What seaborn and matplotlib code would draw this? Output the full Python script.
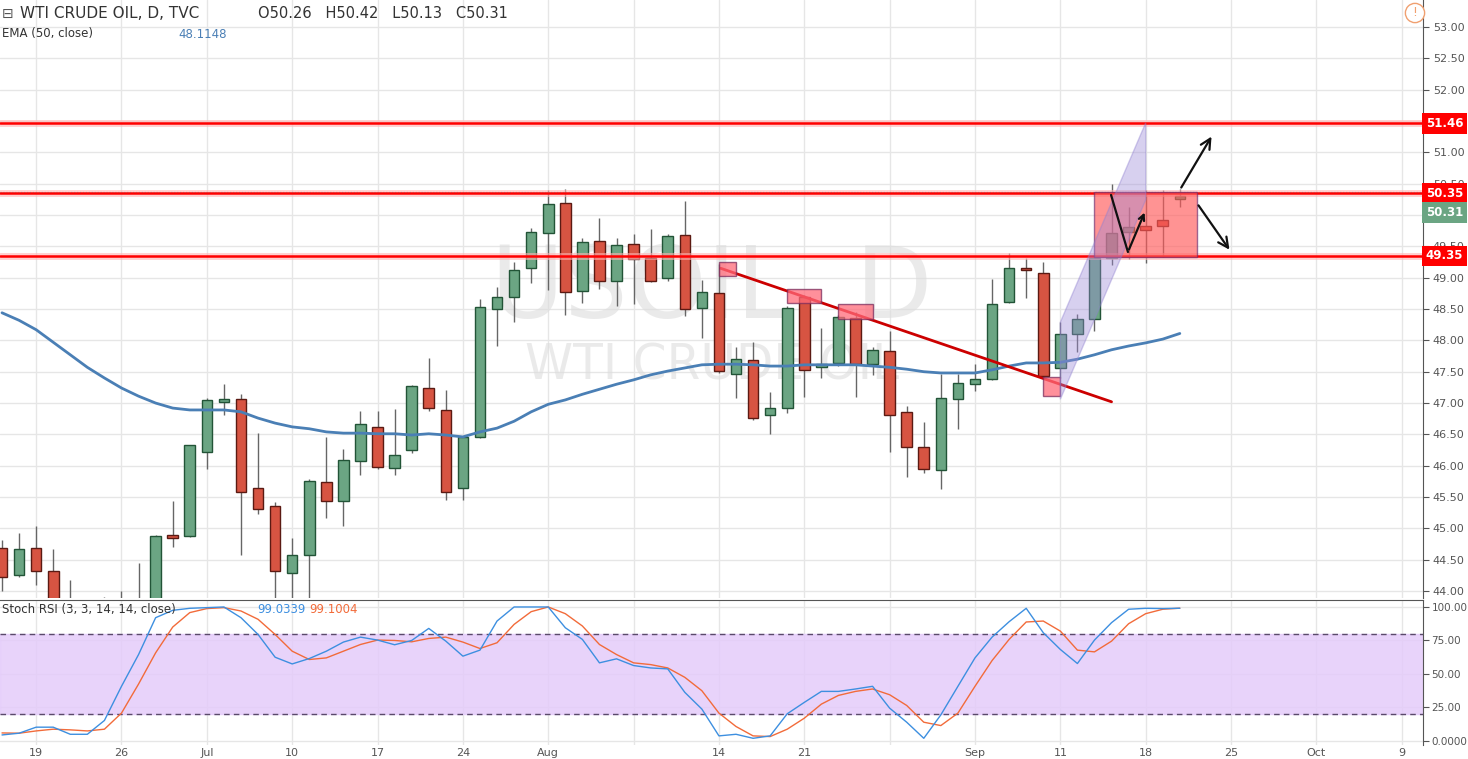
import numpy as np
import pandas as pd
import matplotlib
matplotlib.use("Agg")
import matplotlib.pyplot as plt
import matplotlib.patches as mpatches
import seaborn as sns

sns.set_style("white")
plt.rcParams['font.family'] = ['DejaVu Sans']

# daily candles (index = trading day, Jun 15 .. Sep 20 2017)
opens = [44.69, 44.26, 44.69, 44.32, 43.70, 43.55, 43.60, 43.75, 43.85, 43.75,
         44.90, 44.88, 46.22, 47.02, 47.06, 45.64, 45.36, 44.29, 44.58, 45.74,
         45.44, 46.07, 46.62, 45.96, 46.25, 47.24, 46.89, 45.64, 46.46, 48.50,
         48.69, 49.15, 49.71, 50.19, 48.79, 49.59, 48.95, 49.54, 49.31, 48.99,
         49.68, 48.52, 48.76, 47.46, 47.69, 46.81, 46.92, 48.69, 47.58, 47.64,
         48.36, 47.62, 47.83, 46.86, 46.30, 45.93, 47.06, 47.30, 47.38, 48.61,
         49.14, 49.07, 47.56, 48.10, 48.34, 49.31, 49.73, 49.82, 49.92, 50.26]
highs = [44.81, 44.93, 45.04, 44.67, 44.18, 43.80, 43.90, 44.00, 44.45, 44.90,
         45.44, 46.33, 47.08, 47.30, 47.14, 46.52, 45.42, 44.84, 45.79, 46.46,
         46.27, 46.87, 46.87, 46.90, 47.29, 47.72, 47.21, 46.46, 48.66, 48.85,
         49.25, 49.79, 50.40, 50.42, 49.64, 49.96, 49.64, 49.70, 49.78, 49.70,
         50.22, 48.96, 49.22, 47.89, 47.98, 47.18, 48.55, 48.72, 48.20, 48.40,
         48.46, 47.90, 48.15, 46.96, 46.70, 47.46, 47.46, 47.63, 48.98, 49.40,
         49.32, 49.25, 48.29, 48.42, 49.33, 50.49, 50.13, 50.40, 50.40, 50.42]
lows = [44.00, 44.22, 44.10, 43.50, 43.30, 43.20, 43.30, 43.40, 43.60, 43.70,
        44.70, 44.87, 45.95, 46.81, 44.57, 45.23, 43.70, 43.70, 43.80, 45.16,
        45.04, 45.85, 45.95, 45.85, 46.20, 46.87, 45.45, 45.45, 46.44, 47.91,
        48.29, 48.91, 48.80, 48.40, 48.60, 48.82, 48.55, 48.58, 48.93, 48.94,
        48.39, 48.04, 47.48, 47.08, 46.73, 46.51, 46.84, 47.09, 47.40, 47.59,
        47.10, 47.45, 46.22, 45.82, 45.89, 45.63, 46.59, 47.20, 47.37, 48.59,
        48.68, 47.40, 47.40, 47.81, 48.15, 49.20, 49.30, 49.23, 49.33, 50.13]
closes = [44.22, 44.67, 44.32, 43.70, 43.55, 43.60, 43.75, 43.85, 43.80, 44.88,
          44.85, 46.33, 47.05, 47.05, 45.58, 45.31, 44.32, 44.58, 45.76, 45.44,
          46.09, 46.67, 45.98, 46.17, 47.27, 46.92, 45.58, 46.46, 48.53, 48.69,
          49.12, 49.73, 50.18, 48.77, 49.57, 48.95, 49.52, 49.30, 48.95, 49.66,
          48.50, 48.77, 47.51, 47.70, 46.76, 46.92, 48.52, 47.53, 47.62, 48.37,
          47.62, 47.85, 46.81, 46.30, 45.95, 47.08, 47.32, 47.38, 48.58, 49.15,
          49.12, 47.43, 48.10, 48.34, 49.31, 49.71, 49.81, 49.76, 49.82, 50.31]
ema50 = [48.44, 48.32, 48.17, 47.97, 47.77, 47.57, 47.40, 47.24, 47.11, 47.00,
         46.92, 46.89, 46.89, 46.89, 46.86, 46.76, 46.68, 46.62, 46.59, 46.54,
         46.52, 46.52, 46.51, 46.51, 46.49, 46.51, 46.49, 46.46, 46.54, 46.60,
         46.71, 46.86, 46.98, 47.05, 47.14, 47.22, 47.30, 47.37, 47.45, 47.51,
         47.56, 47.61, 47.62, 47.62, 47.61, 47.59, 47.59, 47.61, 47.61, 47.61,
         47.61, 47.59, 47.57, 47.54, 47.50, 47.48, 47.48, 47.48, 47.53, 47.59,
         47.64, 47.64, 47.65, 47.70, 47.77, 47.85, 47.91, 47.96, 48.02, 48.11]
stoch_k = [4.5, 5.8, 10.3, 10.3, 5, 5, 15.3, 40.8, 64.5, 92,
           97.5, 99, 99.5, 100, 92, 79.5, 62.5, 57.5, 61.5, 67,
           73.8, 77.5, 75.3, 71.8, 75, 84, 74.5, 63.3, 67.8, 89.5,
           100, 100, 100, 84.5, 75.8, 58.3, 61.3, 56.3, 54.5, 53.8,
           36.3, 23.8, 3.8, 5, 2, 3.8, 20.3, 28.8, 37, 37,
           38.8, 40.8, 24.5, 14, 2, 19.5, 40.8, 62, 77.5, 89,
           99, 80.8, 68.3, 57.8, 75.3, 88.3, 98.3, 99, 98.8, 99.03]
stoch_d = [6, 5.8, 7.5, 8.8, 8.3, 7.5, 8.8, 20.8, 42.5, 65.8,
           85, 95.8, 98.8, 99.5, 97, 90.8, 79.5, 67, 60.8, 62,
           67, 72, 75.3, 75, 74, 76.5, 77.5, 73.8, 69, 73.3,
           87, 96.5, 100, 95, 85.8, 72, 64.5, 58.3, 57, 54.5,
           47.5, 37.5, 20.8, 10.8, 3.8, 3.3, 8.8, 17, 27.5, 34,
           37, 38.8, 34.5, 26.5, 14, 11.5, 20.8, 40.8, 60, 75.8,
           88.8, 89.5, 82, 67.8, 66.5, 74.5, 87.5, 95, 98.3, 99.1]

date_ticks = [2, 7, 12, 17, 22, 27, 32, 42, 47, 57, 62, 67, 72, 77, 82]
date_labels = ['19', '26', 'Jul', '10', '17', '24', 'Aug', '14', '21',
               'Sep', '11', '18', '25', 'Oct', '9']
grid_x = [2, 7, 12, 17, 22, 27, 32, 37, 42, 47, 52, 57, 62, 67, 72, 77, 82]

levels = [51.46, 50.35, 49.35]
last_price = 50.31

# drawings on the chart
trend_x = [42.1, 65.0]
trend_y = [49.15, 47.02]
marks = [(42.0, 43.0, 49.03, 49.25), (46.0, 48.0, 48.60, 48.82),
         (49.0, 51.0, 48.34, 48.58), (61.0, 62.0, 47.12, 47.41)]
zone = (64.0, 70.0, 49.33, 50.37)
channel_x = [62.0, 62.0, 67.0, 67.0]
channel_y = [47.06, 48.29, 51.47, 50.24]
zig_x = [64.97, 65.96, 67.0]
zig_y = [50.32, 49.41, 50.08]
arrow_up = (69.0, 50.40, 70.94, 51.29)
arrow_down = (70.0, 50.19, 72.0, 49.41)

df = pd.DataFrame({'i': np.arange(len(closes)), 'open': opens, 'high': highs,
                   'low': lows, 'close': closes, 'ema': ema50,
                   'k': stoch_k, 'd': stoch_d})

W, H = 1468, 759
fig = plt.figure(figsize=(W / 100, H / 100), dpi=100)
right = 1423 / W
ax = fig.add_axes([0, 1 - 598 / H, right, 598 / H])
ax2 = fig.add_axes([0, 1 - 745 / H, right, 145 / H])

xlim = (-2 / 17.07, 1421 / 17.07)
gridc = '#e6e6e6'
for a in (ax, ax2):
    a.set_xlim(*xlim)
    for s in ['top', 'left', 'bottom']:
        a.spines[s].set_visible(False)
    a.spines['right'].set_color('#555555')
    for gx in grid_x:
        a.axvline(gx, color=gridc, lw=1, zorder=0)
    a.yaxis.tick_right()
    a.tick_params(axis='y', labelsize=8, labelcolor='#555555', length=4,
                  color='#555555', pad=3)

# ---- main panel
ax.set_ylim(43.89, 53.43)
yt = np.arange(44, 53.01, 0.5)
ax.set_yticks(yt)
ax.set_yticklabels(['' if v in (50.0, 51.5) else f'{v:.2f}' for v in yt])
for v in yt:
    ax.axhline(v, color=gridc, lw=1, zorder=0)
ax.set_xticks([])

up = df['close'] >= df['open']
for is_up, fc, ec in [(True, '#6ba583', '#225437'), (False, '#d75442', '#5b1a13')]:
    sub = df[up == is_up]
    ax.vlines(sub['i'], sub['low'], sub['high'], color='#666666', lw=1, zorder=2)
    body = (sub['close'] - sub['open']).abs().clip(lower=0.04)
    ax.bar(sub['i'], body, bottom=sub[['open', 'close']].min(axis=1), width=0.62,
           color=fc, edgecolor=ec, linewidth=1, zorder=3)

sns.lineplot(data=df, x='i', y='ema', ax=ax, color='#4a7fb5', lw=2, zorder=4)
ax.set_xlabel('')
ax.set_ylabel('')

ax.text(710 / 17.07, 48.8, 'USOIL  D', fontsize=72, color='#dddddd', alpha=0.6,
        ha='center', va='center', zorder=1)
ax.text(710 / 17.07, 47.6, 'WTI CRUDE OIL', fontsize=35, color='#dddddd', alpha=0.6,
        ha='center', va='center', zorder=1)

for lv in levels:
    ax.axhline(lv, color='#ffb3b3', lw=5, alpha=0.6, zorder=5)
    ax.axhline(lv, color='#ff0000', lw=1.8, zorder=6)
ax.axhline(last_price + 0.05, color='#cc4444', lw=0.8, ls=':', zorder=6)

ax.plot(trend_x, trend_y, color='#cc0000', lw=2, zorder=7)
for x0, x1, y0, y1 in marks:
    ax.add_patch(mpatches.Rectangle((x0, y0), x1 - x0, y1 - y0, fc='#ff6b7a',
                                    ec='#7b2c5c', lw=1, alpha=0.75, zorder=7))
ax.add_patch(mpatches.Rectangle((zone[0], zone[2]), zone[1] - zone[0], zone[3] - zone[2],
                                fc='#ff5a5a', ec='#6a2c70', lw=1, alpha=0.65, zorder=8))
ax.add_patch(mpatches.Polygon(list(zip(channel_x, channel_y)), closed=True,
                              fc='#9c8ad8', ec='#8f80d0', lw=1, alpha=0.4, zorder=9))
ax.plot(zig_x[:2], zig_y[:2], color='#111111', lw=1.6, zorder=10)
ax.annotate('', xy=(zig_x[2], zig_y[2]), xytext=(zig_x[1], zig_y[1]),
            arrowprops=dict(arrowstyle='->', color='#111111', lw=1.6), zorder=10)
for ax0, ay0, ax1, ay1 in (arrow_up, arrow_down):
    ax.annotate('', xy=(ax1, ay1), xytext=(ax0, ay0),
                arrowprops=dict(arrowstyle='->', color='#111111', lw=1.6,
                                mutation_scale=18), zorder=10)

ytr = ax.get_yaxis_transform()
for lv in levels:
    ax.text(1.002, lv, f'{lv:.2f}', transform=ytr, fontsize=8.5, color='white',
            fontweight='bold', ha='left', va='center', clip_on=False, zorder=20,
            bbox=dict(boxstyle='square,pad=0.3', fc='#ff0000', ec='none'))
ax.text(1.002, last_price - 0.27, f'{last_price:.2f}', transform=ytr, fontsize=8.5,
        color='white', fontweight='bold', ha='left', va='center', clip_on=False,
        zorder=20, bbox=dict(boxstyle='square,pad=0.3', fc='#6ba583', ec='none'))

# header
fig.text(2 / W, 1 - 14 / H, '⊟', fontsize=10, color='#555555', va='center')
fig.text(20 / W, 1 - 14 / H, 'WTI CRUDE OIL, D, TVC', fontsize=11, color='#333333',
         va='center')
fig.text(258 / W, 1 - 14 / H, 'O50.26   H50.42   L50.13   C50.31', fontsize=10.5,
         color='#333333', va='center')
fig.text(2 / W, 1 - 34 / H, 'EMA (50, close)', fontsize=8.5, color='#333333', va='center')
fig.text(178 / W, 1 - 34 / H, '48.1148', fontsize=8.5, color='#4a7fb5', va='center')
fig.text(1415 / W, 1 - 13 / H, '!', fontsize=9, color='#f0a070', ha='center',
         va='center', bbox=dict(boxstyle='circle,pad=0.25', fc='white', ec='#f0a070'))

# ---- stoch RSI panel
ax2.set_ylim(-3, 105.2)
rt = [0, 25, 50, 75, 100]
ax2.set_yticks(rt)
ax2.set_yticklabels(['0.0000', '25.00', '50.00', '75.00', '100.00'])
ax2.tick_params(axis='y', labelsize=7.5, pad=2)
for v in rt:
    ax2.axhline(v, color=gridc, lw=1, zorder=0)
ax2.axhspan(20, 80, color='#e4ccfa', alpha=0.85, zorder=1)
for v in (20, 80):
    ax2.axhline(v, color='#5a4a6a', lw=1, ls=(0, (4, 3)), zorder=2)
sns.lineplot(data=df, x='i', y='k', ax=ax2, color='#3d8fe0', lw=1, zorder=4)
sns.lineplot(data=df, x='i', y='d', ax=ax2, color='#f26b3a', lw=1, zorder=3)
ax2.set_xlabel('')
ax2.set_ylabel('')
ax2.spines['top'].set_visible(True)
ax2.spines['top'].set_color('#555555')
ax2.set_xticks(date_ticks)
ax2.set_xticklabels(date_labels)
ax2.tick_params(axis='x', labelsize=8, labelcolor='#555555', length=0, pad=2)
ax2.text(2 / 17.07 - 0.1, 98, 'Stoch RSI (3, 3, 14, 14, close)', fontsize=8.5,
         color='#333333', va='center', zorder=6)
ax2.text(255 / 17.07, 98, '99.0339', fontsize=8.5, color='#3d8fe0', va='center', zorder=6)
ax2.text(307 / 17.07, 98, '99.1004', fontsize=8.5, color='#f26b3a', va='center', zorder=6)

fig.savefig('out.png', dpi=100)
